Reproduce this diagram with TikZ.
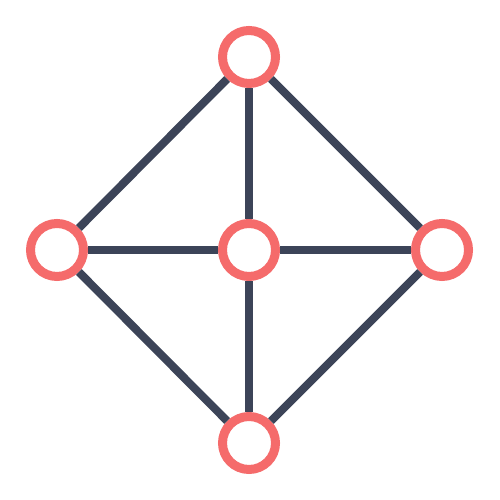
\documentclass[tikz,border=0pt]{standalone}
\usepackage{tikz}
\usetikzlibrary{shapes}
\usetikzlibrary{positioning}

\definecolor{linkgray}{RGB}{60,68,88}
\definecolor{ringred}{RGB}{245,107,107}

\begin{document}
\begin{tikzpicture}[line width=0.08cm,ring node/.style={circle,draw=ringred,fill=white,line width=0.09cm,inner sep=0pt,minimum size=0.53cm}]

	      \useasboundingbox[fill=white] (0,0) rectangle (5,5);

	      \node[ring node] at (2.49,4.43) (top) {};
	      \node[ring node] at (0.57,2.5) (left) {};
	      \node[ring node] at (2.49,2.5) (mid) {};
	      \node[ring node] at (4.42,2.5) (right) {};
	      \node[ring node] at (2.49,0.57) (bot) {};

	      \path[draw=linkgray]
	      (top) edge (left)
	      (top) edge (right)
	      (top) edge (mid)
	      (left) edge (mid)
	      (mid) edge (right)
	      (left) edge (bot)
	      (right) edge (bot)
	      (mid) edge (bot)
	      ;

	    \end{tikzpicture}
\end{document}
